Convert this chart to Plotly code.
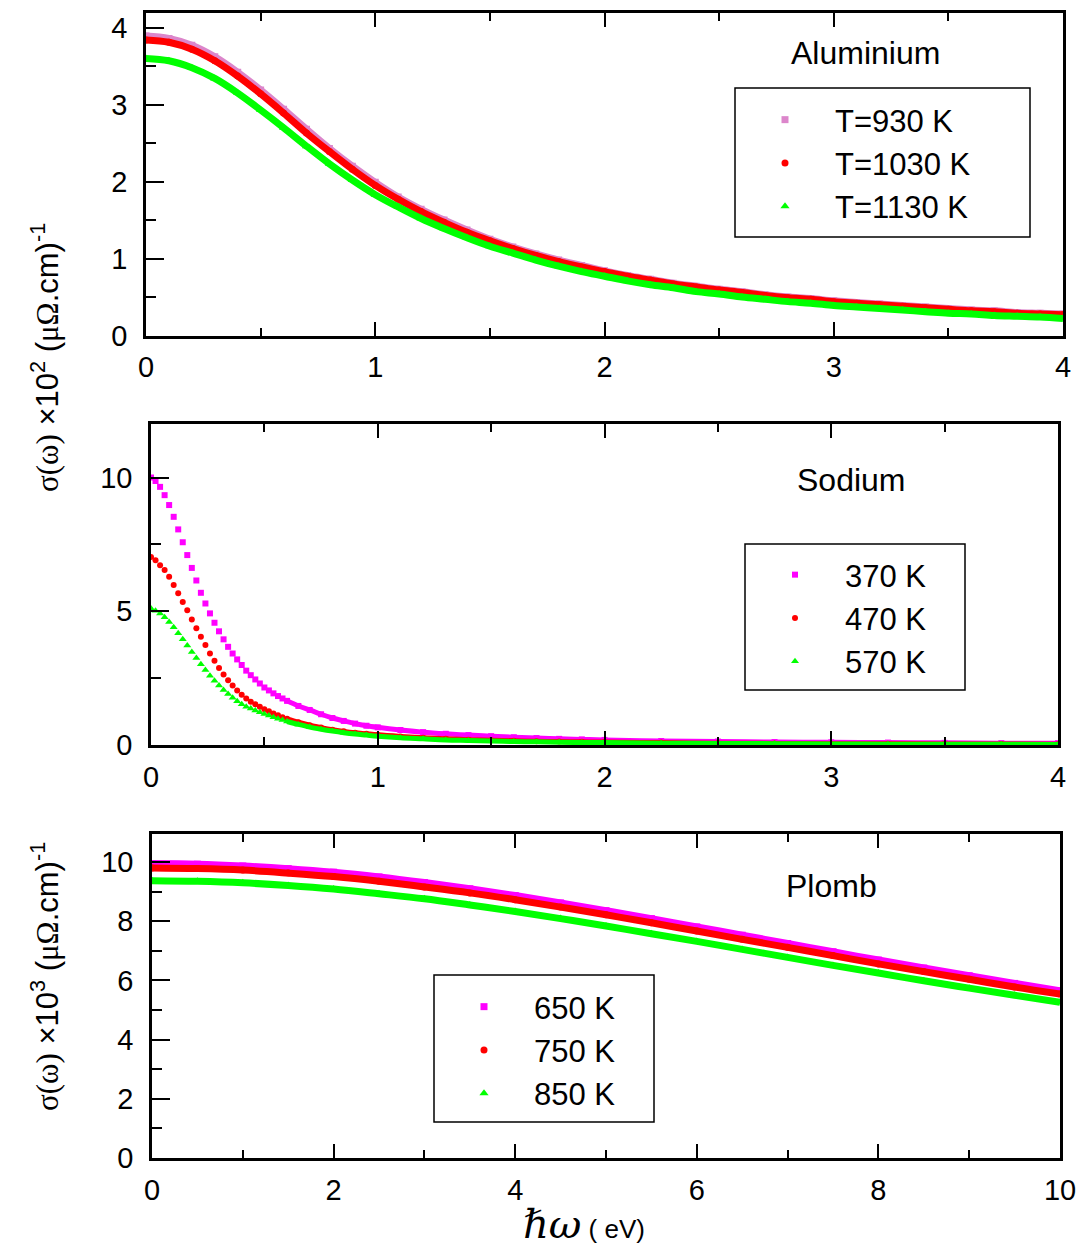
import plotly.graph_objects as go

# ---------------- data ----------------
# Aluminium (top panel)
al_x = [0.0, 0.1, 0.2, 0.3, 0.4, 0.5, 0.6, 0.7, 0.8, 0.9, 1.0, 1.1, 1.2, 1.3, 1.4, 1.5, 1.6, 1.7, 1.8, 1.9, 2.0,
        2.1, 2.2, 2.3, 2.4, 2.5, 2.6, 2.7, 2.8, 2.9, 3.0, 3.1, 3.2, 3.3, 3.4, 3.5, 3.6, 3.7, 3.8, 3.9, 4.0]
al_930 = [3.89, 3.86, 3.77, 3.62, 3.42, 3.19, 2.94, 2.68, 2.43, 2.20, 1.99, 1.80, 1.64, 1.50, 1.37, 1.25, 1.15, 1.06, 0.98, 0.91, 0.84,
          0.78, 0.73, 0.68, 0.64, 0.60, 0.57, 0.53, 0.50, 0.48, 0.45, 0.43, 0.41, 0.39, 0.37, 0.35, 0.33, 0.32, 0.30, 0.29, 0.28]
al_1030 = [3.84, 3.81, 3.72, 3.57, 3.37, 3.14, 2.89, 2.63, 2.39, 2.16, 1.95, 1.77, 1.61, 1.47, 1.34, 1.23, 1.13, 1.04, 0.96, 0.89, 0.83,
           0.77, 0.72, 0.67, 0.63, 0.59, 0.56, 0.52, 0.49, 0.47, 0.44, 0.42, 0.40, 0.38, 0.36, 0.34, 0.32, 0.31, 0.29, 0.28, 0.27]
al_1130 = [3.60, 3.57, 3.48, 3.34, 3.15, 2.93, 2.70, 2.46, 2.23, 2.02, 1.83, 1.67, 1.52, 1.39, 1.27, 1.16, 1.07, 0.98, 0.90, 0.83, 0.77,
           0.71, 0.66, 0.62, 0.57, 0.54, 0.50, 0.47, 0.44, 0.42, 0.39, 0.37, 0.35, 0.33, 0.31, 0.29, 0.28, 0.26, 0.25, 0.24, 0.22]

# Sodium (middle panel)
na_x = [0.00, 0.02, 0.04, 0.06, 0.08, 0.10, 0.12, 0.14, 0.16, 0.18, 0.20, 0.22, 0.24, 0.26, 0.28, 0.30,
        0.32, 0.34, 0.36, 0.38, 0.40, 0.42, 0.44, 0.46, 0.48, 0.50, 0.52, 0.54, 0.56, 0.58, 0.60,
        0.65, 0.70, 0.75, 0.80, 0.85, 0.90, 0.95, 1.00,
        1.1, 1.2, 1.3, 1.4, 1.5, 1.6, 1.7, 1.8, 1.9, 2.0,
        2.25, 2.5, 2.75, 3.0, 3.25, 3.5, 3.75, 4.0]
na_370 = [10.0, 9.87, 9.65, 9.34, 8.97, 8.53, 8.06, 7.58, 7.10, 6.62, 6.15, 5.69, 5.29, 4.92, 4.57, 4.25,
          3.95, 3.67, 3.42, 3.20, 2.99, 2.78, 2.61, 2.45, 2.30, 2.15, 2.04, 1.93, 1.83, 1.74, 1.65,
          1.46, 1.31, 1.15, 1.01, 0.90, 0.80, 0.72, 0.66,
          0.56, 0.48, 0.42, 0.37, 0.33, 0.29, 0.26, 0.23, 0.21, 0.19,
          0.15, 0.13, 0.11, 0.10, 0.09, 0.08, 0.07, 0.07]
na_470 = [7.03, 6.91, 6.72, 6.54, 6.29, 5.98, 5.67, 5.35, 5.04, 4.69, 4.36, 4.05, 3.74, 3.42, 3.15, 2.88,
          2.64, 2.42, 2.22, 2.04, 1.88, 1.74, 1.62, 1.52, 1.43, 1.34, 1.26, 1.18, 1.11, 1.04, 0.98,
          0.85, 0.74, 0.65, 0.57, 0.51, 0.46, 0.42, 0.38,
          0.32, 0.27, 0.23, 0.20, 0.18, 0.16, 0.14, 0.13, 0.12, 0.11,
          0.09, 0.07, 0.06, 0.05, 0.05, 0.04, 0.04, 0.03]
na_570 = [5.10, 5.02, 4.92, 4.78, 4.60, 4.40, 4.18, 3.95, 3.72, 3.48, 3.25, 3.02, 2.80, 2.59, 2.40, 2.22,
          2.06, 1.91, 1.77, 1.64, 1.52, 1.43, 1.36, 1.29, 1.22, 1.16, 1.10, 1.04, 0.98, 0.93, 0.88,
          0.77, 0.67, 0.59, 0.52, 0.46, 0.41, 0.37, 0.33,
          0.27, 0.23, 0.19, 0.17, 0.15, 0.13, 0.12, 0.10, 0.09, 0.09,
          0.07, 0.06, 0.05, 0.04, 0.03, 0.03, 0.03, 0.02]

# Plomb (bottom panel)
pb_x = [0.0, 0.5, 1.0, 1.5, 2.0, 2.5, 3.0, 3.5, 4.0, 4.5, 5.0, 5.5, 6.0, 6.5, 7.0, 7.5, 8.0, 8.5, 9.0, 9.5, 10.0]
pb_650 = [9.95, 9.93, 9.87, 9.78, 9.66, 9.50, 9.31, 9.10, 8.87, 8.62, 8.36, 8.09, 7.81, 7.53, 7.25, 6.97, 6.69, 6.42, 6.16, 5.90, 5.65]
pb_750 = [9.80, 9.78, 9.73, 9.63, 9.51, 9.35, 9.16, 8.96, 8.73, 8.48, 8.22, 7.95, 7.67, 7.39, 7.12, 6.84, 6.56, 6.30, 6.04, 5.78, 5.54]
pb_850 = [9.37, 9.35, 9.30, 9.21, 9.09, 8.93, 8.76, 8.55, 8.33, 8.09, 7.84, 7.58, 7.32, 7.05, 6.78, 6.51, 6.25, 5.99, 5.74, 5.50, 5.26]

al_names = ["T=930 K", "T=1030 K", "T=1130 K"]
na_names = ["370 K", "470 K", "570 K"]
pb_names = ["650 K", "750 K", "850 K"]
panel_titles = ["Aluminium", "Sodium", "Plomb"]

# ---------------- style ----------------
OFF = 8                      # page body margin of the browser
W, H = 1084 - OFF, 1249 - OFF
PINK = "#DC86CB"
MAGENTA = "#FF00FF"
RED = "#FF0000"
GREEN = "#00FF00"
SANS = "Liberation Sans, Arial, sans-serif"


def px_x(p):
    return (p - OFF) / W


def px_y(p):
    return 1 - (p - OFF) / H


fig = go.Figure()


def add_series(x, y, color, symbol, msize, name, xa, ya, leg, lw, start=0):
    fig.add_trace(go.Scatter(x=x[start:], y=y[start:], mode="lines",
                             line=dict(color=color, width=lw, shape="spline"),
                             xaxis=xa, yaxis=ya, showlegend=False, hoverinfo="skip"))
    fig.add_trace(go.Scatter(x=x, y=y, mode="markers",
                             marker=dict(color=color, symbol=symbol, size=msize, line=dict(width=0)),
                             name=name, xaxis=xa, yaxis=ya, legend=leg))


add_series(al_x, al_930, PINK, "square", 7, al_names[0], "x", "y", "legend", 7)
add_series(al_x, al_1030, RED, "circle", 7, al_names[1], "x", "y", "legend", 7)
add_series(al_x, al_1130, GREEN, "triangle-up", 8, al_names[2], "x", "y", "legend", 7)

add_series(na_x, na_370, MAGENTA, "square", 6, na_names[0], "x2", "y2", "legend2", 5, start=30)
add_series(na_x, na_470, RED, "circle", 6, na_names[1], "x2", "y2", "legend2", 5, start=30)
add_series(na_x, na_570, GREEN, "triangle-up", 7, na_names[2], "x2", "y2", "legend2", 5, start=30)

add_series(pb_x, pb_650, MAGENTA, "square", 7, pb_names[0], "x3", "y3", "legend3", 7)
add_series(pb_x, pb_750, RED, "circle", 7, pb_names[1], "x3", "y3", "legend3", 7)
add_series(pb_x, pb_850, GREEN, "triangle-up", 8, pb_names[2], "x3", "y3", "legend3", 7)


def xaxis_style(domain, anchor, rng, dtick, mdtick):
    return dict(domain=domain, anchor=anchor, range=rng, dtick=dtick, tick0=0,
                showline=True, linecolor="black", linewidth=2.5, mirror="allticks",
                ticks="inside", ticklen=14, tickwidth=2, tickcolor="black",
                showgrid=False, zeroline=False, ticklabelstandoff=4, automargin=False,
                tickfont=dict(family=SANS, size=29, color="black"),
                minor=dict(ticks="inside", ticklen=8, tickwidth=2, tickcolor="black",
                           dtick=mdtick, tick0=0, showgrid=False))


def yaxis_style(domain, anchor, rng, dtick, mdtick):
    return dict(domain=domain, anchor=anchor, range=rng, dtick=dtick, tick0=0,
                showline=True, linecolor="black", linewidth=2.5, mirror=True,
                ticks="inside", ticklen=18, tickwidth=2, tickcolor="black",
                showgrid=False, zeroline=False, ticklabelstandoff=10, automargin=False,
                tickfont=dict(family=SANS, size=29, color="black"),
                minor=dict(ticks="inside", ticklen=10, tickwidth=2, tickcolor="black",
                           dtick=mdtick, tick0=0, showgrid=False))


def legend_style(x, y):
    return dict(x=x, y=y, xanchor="left", yanchor="top", bgcolor="rgba(0,0,0,0)",
                borderwidth=0, itemwidth=90, tracegroupgap=0, itemsizing="trace",
                font=dict(family=SANS, size=31, color="black"))


ytitle2 = ('<span style="font-family:Liberation Serif">σ(ω)</span> ×10<sup>2</sup> '
           '(<span style="font-family:Liberation Serif">μΩ</span>.cm)<sup>-1</sup>')
ytitle3 = ('<span style="font-family:Liberation Serif">σ(ω)</span> ×10<sup>3</sup> '
           '(<span style="font-family:Liberation Serif">μΩ</span>.cm)<sup>-1</sup>')
xtitle = ('<span style="font-family:DejaVu Serif;font-size:40px"><i>ℏω</i></span>'
          '<span style="font-size:26px"> ( eV)</span>')


def ann(text, x, y, size, angle=0):
    return dict(text=text, x=px_x(x), y=px_y(y), xref="paper", yref="paper",
                xanchor="center", yanchor="middle", textangle=angle,
                showarrow=False, font=dict(family=SANS, size=size, color="black"))


annotations = [
    ann(panel_titles[0], 865, 53, 32),
    ann(panel_titles[1], 851, 480, 32),
    ann(panel_titles[2], 831, 886, 32),
    ann(ytitle2, 45, 358, 31, -90),
    ann(ytitle3, 45, 977, 31, -90),
    ann(xtitle, 584, 1224, 26),
]

shapes = [
    dict(type="rect", xref="paper", yref="paper", x0=px_x(735), x1=px_x(1030), y0=px_y(237), y1=px_y(88),
         line=dict(color="black", width=1.5)),
    dict(type="rect", xref="paper", yref="paper", x0=px_x(745), x1=px_x(965), y0=px_y(690), y1=px_y(544),
         line=dict(color="black", width=1.5)),
    dict(type="rect", xref="paper", yref="paper", x0=px_x(434), x1=px_x(654), y0=px_y(1122), y1=px_y(975),
         line=dict(color="black", width=1.5)),
]

fig.update_layout(
    width=W, height=H, margin=dict(l=0, r=0, t=0, b=0, pad=0, autoexpand=False),
    paper_bgcolor="white", plot_bgcolor="white",
    xaxis=xaxis_style([px_x(146), px_x(1063)], "y", [0, 4], 1, 0.5),
    yaxis=yaxis_style([px_y(335.5), px_y(13)], "x", [0, 4.19], 1, 0.5),
    xaxis2=xaxis_style([px_x(151), px_x(1058)], "y2", [0, 4], 1, 0.5),
    yaxis2=yaxis_style([px_y(745), px_y(424)], "x2", [0, 12], 5, 2.5),
    xaxis3=xaxis_style([px_x(152), px_x(1060)], "y3", [0, 10], 2, 1),
    yaxis3=yaxis_style([px_y(1158), px_y(834)], "x3", [0, 10.95], 2, 1),
    legend=legend_style(px_x(735), px_y(93)),
    legend2=legend_style(px_x(745), px_y(548)),
    legend3=legend_style(px_x(434), px_y(980)),
    annotations=annotations,
    shapes=shapes,
    showlegend=True,
)

fig.write_html("out.html")
